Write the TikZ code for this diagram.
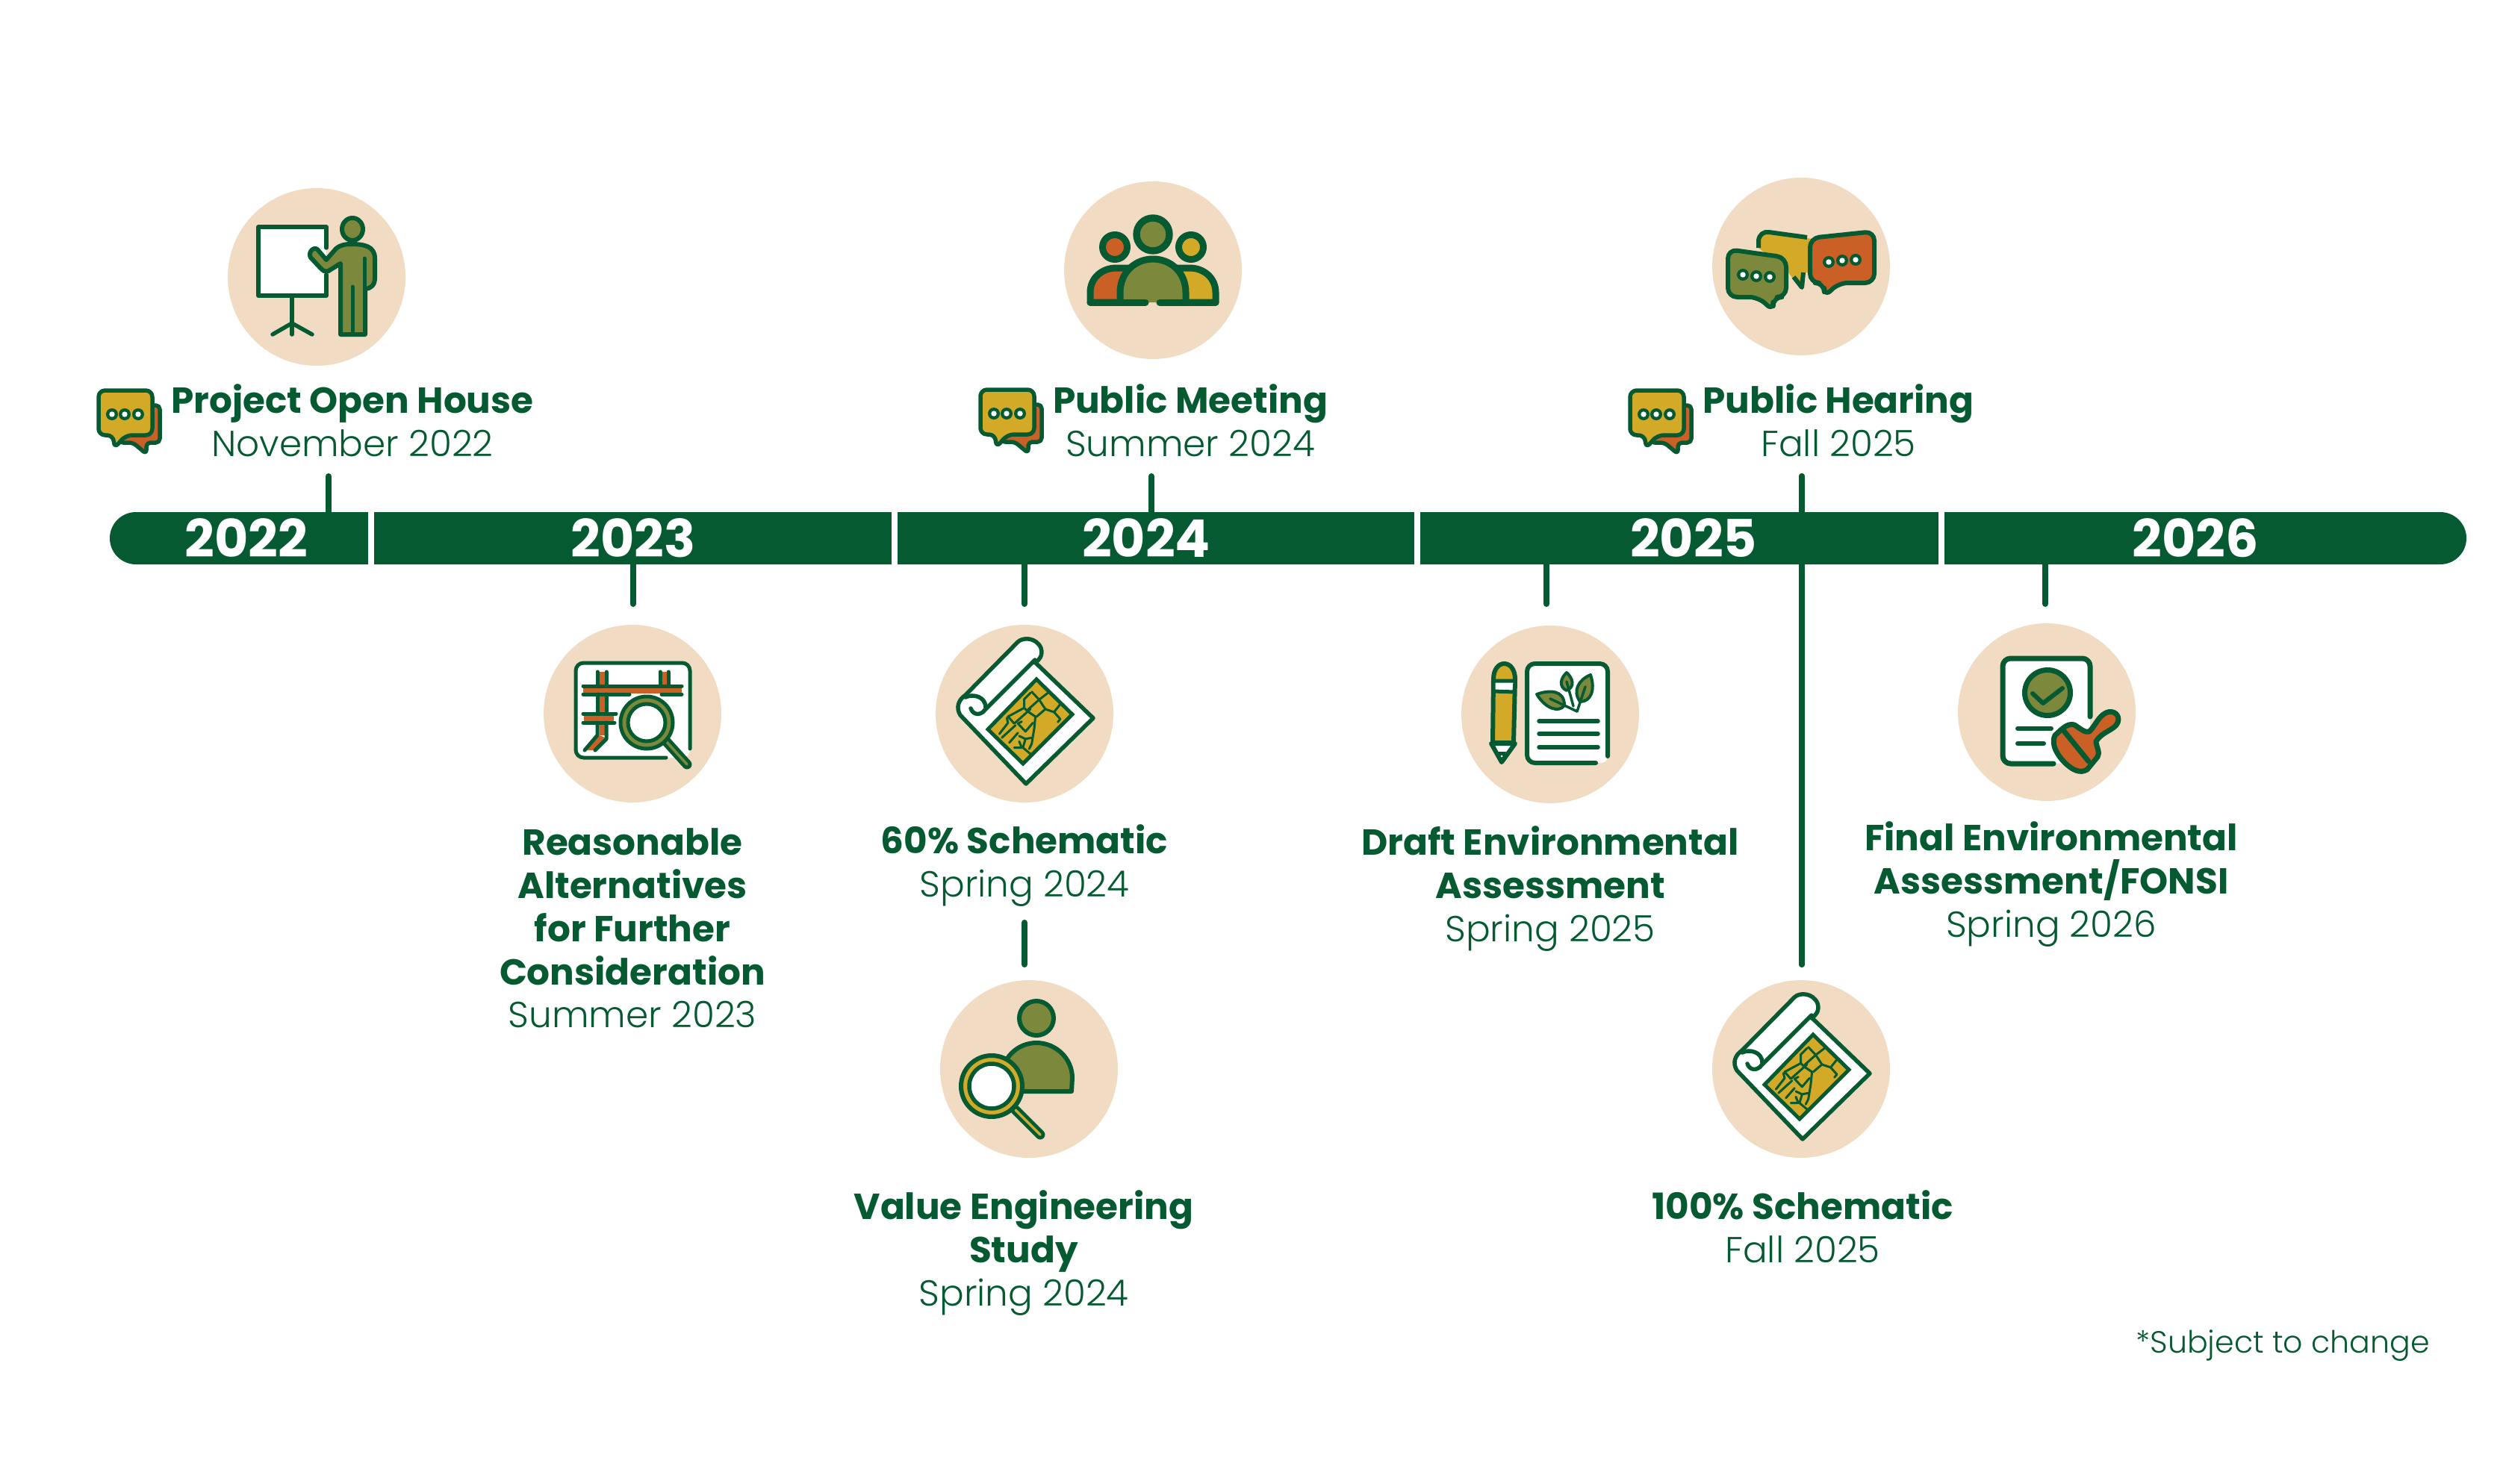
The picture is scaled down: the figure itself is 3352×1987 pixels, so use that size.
\documentclass[tikz,border=0pt]{standalone}
\usepackage{fontspec}
\setmainfont{Poppins}
\newfontfamily\lightf{Poppins Light}
\definecolor{ink}{HTML}{065A31}
\definecolor{tan}{HTML}{F1DBC3}
\definecolor{oliv}{HTML}{7C883C}
\definecolor{gold}{HTML}{D3AA27}
\definecolor{rust}{HTML}{CB6026}
\def\pxu{0.569pt}
\tikzset{
  disc/.style={circle,fill=tan,minimum size=4.76cm,inner sep=0pt},
  tick/.style={draw=ink,line width=8*\pxu,line cap=round},
  lab/.style={anchor=north,align=center,inner sep=0pt,text=ink,yshift=29.3pt,
     font={\fontsize{27.6pt}{32.9pt}\selectfont}},
  yearlab/.style={text=white,inner sep=0pt,font={\fontsize{39.6pt}{44pt}\selectfont\bfseries}},
  ln/.style={draw=ink,line width=#1*\pxu,line cap=round,line join=round},
  ln/.default=6
}
\newcommand\bti{\bfseries}
\newcommand\lti{\mdseries\lightf}
\newcommand\lab[4]{\node[lab] (#1) at (#2,#3) {\rule{0pt}{30pt}#4};}
\newcommand\threedots[3]{%
  \foreach \a/\b in {#1,#2,#3}{\fill[ink] (\a,\b) circle[radius=8]; \fill[white] (\a,\b) circle[radius=3.7];}}
\newcommand\smallbubble[2]{%
  \begin{scope}[shift={(#1,#2)}]
    \draw[ln=5.5,fill=rust,rounded corners=3pt] (190,543) -- (214,543) -- (214,593) -- (196,593) -- (196,608) -- (178,593) -- (160,593) -- cycle;
    \draw[ln=5.5,fill=gold,rounded corners=5pt] (132,523) -- (204,523) -- (204,583) -- (168,583) -- (153,601) -- (152,583) -- (132,583) -- cycle;
    \threedots{150/555}{167/555}{185/555}
  \end{scope}}
\newcommand\scrollmap[2]{%
  \begin{scope}[shift={(#1,#2)}]
    \draw[ln=5.5,fill=white] (1388,889) -- (1464,962) -- (1374,1050) -- (1286,958) .. controls (1280,948) and (1283,938) .. (1293,931) -- (1363,860) .. controls (1370,853) and (1388,854) .. (1394,868) .. controls (1397,878) and (1392,884) .. (1386,888);
    \draw[ln=5.5] (1386,884) -- (1319,951) .. controls (1313,959) and (1303,958) .. (1300,949);
    \draw[ln=5.5] (1293,934) .. controls (1303,929) and (1320,933) .. (1320,948);
    \draw[draw=ink,line width=5*\pxu,fill=gold,line join=miter] (1388,910) -- (1436,957) -- (1370,1023) -- (1323,977) -- cycle;
    \begin{scope}[x=0.00667cm,y=-0.00667cm,shift={(3840,2640)}]
      \draw[ln=3] (300,145)--(275,170)--(275,205)--(290,220)--(320,240)--(315,290)--(305,350)--(295,370);
      \draw[ln=3] (305,140)--(335,172)--(290,212);
      \draw[ln=3] (335,172)--(360,210)--(325,240);
      \draw[ln=3] (360,210)--(395,222)--(420,250)--(410,262);
      \draw[ln=3] (395,222)--(420,190);
      \draw[ln=3] (335,172)--(370,145);
      \draw[ln=3] (275,205)--(210,240)--(235,268)--(300,210);
      \draw[ln=3] (265,260)--(250,268)--(280,300)--(310,265);
      \draw[ln=3] (205,245)--(210,265)--(175,310);
      \draw[ln=3] (240,275)--(185,325);
      \draw[ln=3] (250,305)--(215,345);
      \draw[ln=3] (255,318)--(280,330)--(305,325);
      \draw[ln=3] (280,330)--(270,365)--(300,390);
      \draw[ln=3] (255,340)--(265,365)--(235,365);
    \end{scope}
  \end{scope}}
\begin{document}
\begin{tikzpicture}[x=0.02cm,y=-0.02cm]
\useasboundingbox (0,0) rectangle (3352,1987);
\fill[white] (0,0) rectangle (3352,1987);

% discs
\node[disc] (c1) at (424,371) {};
\node[disc] (c2) at (1544,362) {};
\node[disc] (c3) at (2412,357) {};
\node[disc] (c4) at (847,956) {};
\node[disc] (c5) at (1372,956) {};
\node[disc] (c6) at (1378,1432) {};
\node[disc] (c7) at (2076,957) {};
\node[disc] (c8) at (2741,954) {};
\node[disc] (c9) at (2412,1432) {};

% ticks
\coordinate (a1) at (440,638); \coordinate (b1) at (440,690);
\coordinate (a2) at (1542,638); \coordinate (b2) at (1542,690);
\coordinate (a3) at (2413,638); \coordinate (b3) at (2413,1292);
\coordinate (a4) at (847.5,750); \coordinate (b4) at (847.5,809);
\coordinate (a5) at (1372,750); \coordinate (b5) at (1372,809);
\coordinate (a6) at (2071,750); \coordinate (b6) at (2071,809);
\coordinate (a7) at (2739,750); \coordinate (b7) at (2739,809);
\coordinate (a8) at (1372,1236); \coordinate (b8) at (1372,1292);
\foreach \i in {1,...,8}{\draw[tick] (a\i) -- (b\i);}

% bar
\fill[ink,rounded corners=19.9pt] (147,686) rectangle (3303,756);
\foreach \x in {497,1198,1898,2600}{\fill[white] (\x-4,680) rectangle (\x+4,762);}
\draw[tick] (a3) -- (b3);
\node[yearlab] (y22) at (330,721) {2022};
\node[yearlab] (y23) at (848,721) {2023};
\node[yearlab] (y24) at (1535,721) {2024};
\node[yearlab] (y25) at (2268,721) {2025};
\node[yearlab] (y26) at (2940,721) {2026};

% labels
\lab{l1}{472}{552}{\bti Project Open House\\\lti November 2022}
\lab{l2}{1594}{552}{\bti Public Meeting\\\lti Summer 2024}
\lab{l3}{2462}{552}{\bti Public Hearing\\\lti Fall 2025}
\lab{l4}{847}{1144}{\bti Reasonable\\\bti Alternatives\\\bti for Further\\\bti Consideration\\\lti Summer 2023}
\lab{l5}{1372}{1142}{\bti 60\% Schematic\\\lti Spring 2024}
\lab{l6}{1371}{1632}{\bti Value Engineering\\\bti Study\\\lti Spring 2024}
\lab{l7}{2076}{1144}{\bti Draft Environmental\\\bti Assessment\\\lti Spring 2025}
\lab{l8}{2414}{1632}{\bti 100\% Schematic\\\lti Fall 2025}
\lab{l9}{2747}{1138}{\bti Final Environmental\\\bti Assessment/FONSI\\\lti Spring 2026}
\node[text=ink,inner sep=0pt] (note) at (3057,1803) {\fontsize{23.4pt}{28pt}\selectfont\lightf *Subject to change};

% small bubbles
\smallbubble{0}{0}
\smallbubble{1181}{-1}
\smallbubble{2051}{0}

% icon 1: presenter
\begin{scope}[shift={(-2,0)}]
\fill[white] (348,304) rectangle (439,396);
\draw[ln=5.5] (439,332) -- (439,304) -- (348,304) -- (348,396) -- (439,396) -- (439,368);
\draw[ln=5.5] (393,396) -- (393,448);
\draw[ln=5.5] (367,448) -- (393,433) -- (420,448);
\draw[ln=6,fill=oliv] (474,307) ellipse[x radius=14,y radius=15];
\draw[ln=6,fill=oliv] (472,327) .. controls (490,327) and (504,330) .. (504,346) -- (504,373) .. controls (504,382) and (498,387) .. (491,387) -- (491,448) -- (458,448) -- (458,353) -- (445,361) .. controls (441,365) and (436,364) .. (433,361) -- (418,345) .. controls (414,338) and (422,330) .. (427,334) -- (439,348) -- (452,333) .. controls (458,328) and (465,327) .. (472,327) -- cycle;
\draw[ln=5] (490,346) -- (490,387);
\draw[ln=5] (474,384) -- (474,448);
\end{scope}

% icon 2: people
\draw[ln=9,fill=rust] (1493,331) circle[radius=16.5];
\draw[ln=9,fill=gold] (1595,331) circle[radius=16.5];
\draw[ln=9,fill=rust] (1460,405) -- (1460,392) .. controls (1460,372) and (1476,359) .. (1495,359) -- (1515,359) -- (1515,405) -- cycle;
\draw[ln=9,fill=gold] (1628,405) -- (1628,392) .. controls (1628,372) and (1612,359) .. (1593,359) -- (1573,359) -- (1573,405) -- cycle;
\fill[oliv] (1500,405) -- (1500,392) .. controls (1500,365) and (1520,347) .. (1544,347) .. controls (1568,347) and (1588,365) .. (1588,392) -- (1588,405) -- cycle;
\draw[ln=9] (1500,405) -- (1500,392) .. controls (1500,365) and (1520,347) .. (1544,347) .. controls (1568,347) and (1588,365) .. (1588,392) -- (1588,405);
\draw[ln=9] (1460,405) -- (1534,405);
\draw[ln=9] (1553,405) -- (1628,405);
\draw[ln=9.4,fill=oliv] (1544,314) circle[radius=22];

% icon 3: three speech bubbles
\fill[gold] (2355,332) -- (2355,318) .. controls (2356,312) and (2362,311) .. (2367,312) -- (2427,320) -- (2425,365) -- (2417,365) -- (2412,385) -- (2400,372) -- (2395,365) -- cycle;
\draw[ln=6,line cap=butt] (2355,332) -- (2355,322) .. controls (2356,314) and (2362,310) .. (2369,311) -- (2420,318);
\draw[ln=6,line cap=butt] (2402,371) -- (2413,385) -- (2415,365);
\draw[ln=6,fill=oliv,rounded corners=7pt] (2314,334) -- (2392,345) -- (2392,398) -- (2374,398) -- (2375,417) -- (2355,398) -- (2314,398) -- cycle;
\threedots{2334/368}{2352/370}{2370/371}
\draw[ln=6,fill=rust,rounded corners=7pt] (2424,319) -- (2510,310) -- (2510,379) -- (2462,379) -- (2443,398) -- (2443,379) -- (2424,379) -- cycle;
\threedots{2449/351}{2467/349}{2485/348}

% icon 4: road map with magnifier
\fill[white,rounded corners=6pt] (771,888) rectangle (924,1015);
\fill[rust] (781,922) rectangle (913,929);
\fill[rust] (803,900) rectangle (810,985);
\fill[rust] (886,900) rectangle (893,925);
\fill[rust] (782,958) rectangle (822,966);
\fill[rust] (803,985) -- (810,988) -- (796,1005) -- (786,1005) -- cycle;
\draw[ln=5,rounded corners=6pt] (924,1003) -- (924,888) -- (771,888) -- (771,1015) -- (892,1015);
\foreach \p/\q/\u/\v in {800/900/800/919,812/900/812/919,884/900/884/919,895/900/895/919,781/919/913/919,781/930/843/930,886/930/913/930,800/930/800/956,812/930/812/956,781/956/825/956,781/968/823/968}{\draw[ln=5] (\p,\q) -- (\u,\v);}
\draw[ln=5] (800,968) -- (800,985) -- (783,1005);
\draw[ln=5] (812,968) -- (812,990) -- (797,1005);
\draw[line width=13*\pxu,draw=ink,line cap=round] (892,993) -- (920,1024);
\draw[line width=3.5*\pxu,draw=oliv,line cap=round] (892,993) -- (920,1024);
\draw[ln=5,fill=oliv] (866,968) circle[radius=35];
\draw[ln=5,fill=white] (866,968) circle[radius=25];

% icon 5 and 6: scroll maps
\scrollmap{0}{0}
\scrollmap{1040}{476}

% icon 7: person with magnifier
\draw[ln=6,fill=oliv] (1388,1364) circle[radius=23];
\draw[ln=6,fill=oliv] (1340,1462) -- (1341,1444) .. controls (1341,1418) and (1362,1397) .. (1388,1397) .. controls (1414,1397) and (1436,1418) .. (1436,1444) -- (1435,1462) -- cycle;
\draw[line width=13*\pxu,draw=ink,line cap=round] (1360,1487) -- (1393,1520);
\draw[line width=3.5*\pxu,draw=gold,line cap=round] (1360,1487) -- (1393,1520);
\draw[ln=6,fill=gold] (1328,1455) circle[radius=41];
\draw[ln=5.5,fill=white] (1328,1455) circle[radius=30];

% icon 8: pencil and document
\draw[ln=6,fill=gold] (1999,995) -- (2000,910) .. controls (2000,882) and (2029,882) .. (2029,910) -- (2027,995) -- cycle;
\draw[ln=5,fill=white] (2000,912) -- (2029,912) -- (2028,927) -- (2000,926) -- cycle;
\draw[ln=6,fill=white] (1997,996) -- (2029,996) -- (2011,1021) -- cycle;
\fill[ink] (2011,1021) -- (2005,1007) -- (2017,1007) -- cycle;
\fill[white] (2011,1013) circle[radius=1.5];
\fill[white,rounded corners=5pt] (2045,889) rectangle (2153,1022);
\draw[ln=6,rounded corners=6pt] (2153,1013) -- (2153,889) -- (2045,889) -- (2045,1022) -- (2137,1022);
\foreach \yy in {966,983,1001}{\draw[ln=5.5] (2061,\yy) -- (2140,\yy);}
\draw[ln=4,fill=oliv] (2058,930) .. controls (2075,924) and (2095,924) .. (2095,945) .. controls (2088,955) and (2070,950) .. (2058,930) -- cycle;
\draw[ln=4,fill=oliv] (2098,901) .. controls (2090,908) and (2087,920) .. (2098,925) .. controls (2110,920) and (2106,908) .. (2098,901) -- cycle;
\draw[ln=4,fill=oliv] (2130,904) .. controls (2115,910) and (2105,925) .. (2116,940) .. controls (2130,940) and (2137,925) .. (2130,904) -- cycle;
\draw[ln=3.5] (2112,953) -- (2076,936);
\draw[ln=3.5] (2107,946) -- (2098,913);
\draw[ln=3.5] (2112,953) -- (2123,920);

% icon 9: stamped document
\fill[white,rounded corners=5pt] (2682,882) rectangle (2799,1023);
\draw[ln=7,rounded corners=6pt] (2799,960) -- (2799,882) -- (2682,882) -- (2682,1023) -- (2750,1023);
\draw[ln=7,fill=oliv] (2742,928) circle[radius=30.5];
\draw[ln=6] (2722,929) -- (2736,942) -- (2762,922);
\draw[ln=6] (2702,976) -- (2747,976);
\draw[ln=6] (2702,996) -- (2737,996);
\draw[ln=7,fill=rust] (2752,985) .. controls (2760,978) and (2768,968) .. (2778,971) .. controls (2786,976) and (2792,982) .. (2798,980) .. controls (2806,972) and (2810,960) .. (2820,955) .. controls (2830,950) and (2840,958) .. (2836,968) .. controls (2832,978) and (2815,980) .. (2807,993) .. controls (2807,1000) and (2813,1008) .. (2809,1014) -- (2795,1031) .. controls (2785,1037) and (2775,1030) .. (2770,1026) .. controls (2760,1018) and (2745,1000) .. (2752,985) -- cycle;
\draw[ln=7] (2763,978) -- (2797,1020);
\end{tikzpicture}
\end{document}
